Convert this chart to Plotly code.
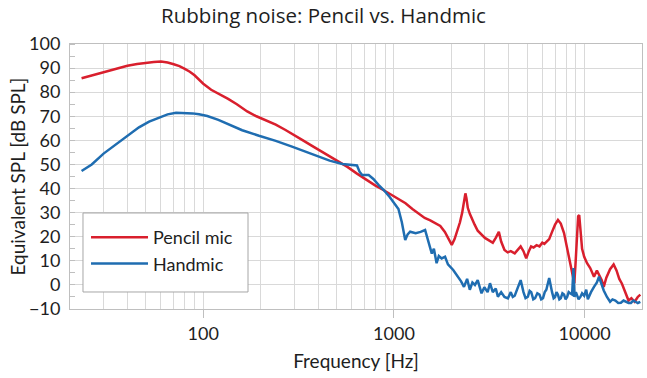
import plotly.graph_objects as go

# ---- data ----
pencil_f = [23, 26, 30, 35, 40, 45, 50, 55, 60, 65, 70, 75, 80, 85, 90, 95, 100, 110, 120, 135,
            150, 170, 190, 215, 240, 270, 300, 330, 370, 410, 460, 510, 570, 640, 720, 800, 880,
            960, 1050, 1150, 1250, 1350, 1450, 1550, 1650, 1750, 1850, 1950, 2010, 2080, 2150,
            2220, 2280, 2330, 2370, 2400, 2440, 2500, 2560, 2650, 2750, 2880, 3000, 3150, 3300,
            3420, 3550, 3650, 3800, 3950, 4100, 4300, 4450, 4620, 4780, 4940, 5100, 5240, 5400,
            5600, 5800, 6000, 6150, 6350, 6520, 6750, 7000, 7250, 7500, 7800, 8100, 8450, 8700,
            8830, 8950, 9100, 9250, 9370, 9500, 9700, 9950, 10300, 10700, 11200, 11600, 11900,
            12300, 12600, 13000, 13600, 14200, 14700, 15200, 15700, 16300, 17000, 17600, 18300,
            19000, 19600]
pencil_db = [85.8, 87, 88.5, 90, 91, 91.7, 92.2, 92.5, 92.7, 92.3, 91.6, 90.8, 89.7, 88.5, 87,
             85.3, 83.5, 81, 79.5, 77.2, 75, 72, 70, 68.3, 66.5, 64.3, 62, 60.2, 57.8, 55.7, 53.6,
             51.2, 49, 46.2, 43.5, 41.2, 39.4, 37.5, 35.6, 33.9, 31.5, 29.5, 27.8, 26.8, 25.7,
             24.5, 22, 18.5, 16.6, 19, 22.5, 26, 30, 34, 38, 36, 32, 29.5, 27.5, 25, 22.5, 20.7,
             19.5, 18.5, 17.5, 19.5, 22, 18, 14.5, 13.5, 14, 13.1, 14.5, 16, 14, 11, 14, 16, 15.5,
             16.5, 16, 17.5, 17, 18, 19, 22, 25, 27, 25.5, 21.5, 15, 9, 3, 0.7, 8, 20, 28.5, 29,
             22, 15, 11.7, 9, 7, 3.4, 6, 4.5, 2, -0.8, 3, 6.5, 8.5, 6, 2.5, 0.5, -3, -6.5, -5.5,
             -7, -5, -4]

hand_f = [23, 26, 30, 35, 40, 46, 52, 59, 65, 72, 80, 88, 95, 105, 120, 137, 160, 196, 240, 292,
          350, 404, 460, 536, 600, 640, 660, 681, 737, 780, 830, 884, 950, 1000, 1056, 1100, 1146,
          1180, 1216, 1300, 1380, 1457, 1518, 1580, 1620, 1674, 1720, 1780, 1854, 1920, 2046, 2150,
          2250, 2330, 2420, 2500, 2580, 2660, 2750, 2880, 2980, 3100, 3190, 3300, 3420, 3510, 3650,
          3800, 3960, 4100, 4200, 4300, 4450, 4620, 4780, 4900, 5040, 5150, 5250, 5380, 5500, 5650,
          5800, 5920, 6050, 6180, 6300, 6520, 6750, 6880, 7000, 7120, 7240, 7370, 7500, 7650, 7800,
          7950, 8100, 8250, 8400, 8600, 8740, 8850, 9000, 9100, 9300, 9500, 9700, 9950, 10200,
          10400, 10600, 10800, 11200, 11600, 11900, 12300, 12600, 13100, 13600, 14000, 14500,
          15000, 15500, 16000, 16500, 17000, 17500, 18000, 18500, 19000, 19600]
hand_db = [47.3, 50, 54.5, 58.5, 62, 65.4, 67.8, 69.6, 70.8, 71.5, 71.5, 71.2, 70.8, 70.1, 68.5,
           66.4, 64.2, 61.9, 59.8, 57.4, 55.2, 53.5, 51.6, 50.2, 49.8, 49.6, 47, 45.6, 45.6, 44,
           41.5, 39.4, 36.5, 34, 31.5, 26, 18.6, 21, 22.1, 21.5, 22, 22.8, 18, 13, 15, 9, 12, 11,
           11.7, 8.5, 6.2, 4, 1.5, -0.8, 2.5, -2, 1, 0, 2, -3.5, -1, -3, 0.7, -3, -1.5, -4.9, -3,
           -5, -5.6, -3, -5, -4.5, -1, 2, -3, -5.5, -4.9, -2.5, -3, -6, -5.5, -3.5,
           -4, -6, -5.5, -3, -2, 2.9, -3, -5.5, -5, -3, -4, -6, -5.5, -3.5, -4,
           -6, -5, -3, -3.5, -4, 7, -5, -3, -4, -6, -5, -3.5, -4.5, -2,
           -6, -4, -3, -0.8, 1, 3.4, 0, -2.3, -5, -7, -6, -6.5,
           -7.5, -7.4, -6.5, -7, -7.5, -7.5, -6.5, -7, -7.5, -7]

series_names = ["Pencil mic", "Handmic"]
title_text = "Rubbing noise: Pencil vs. Handmic"
x_title = "Frequency [Hz]"
y_title = "Equivalent SPL [dB SPL]"
x_major = [100, 1000, 10000]
x_minor = [m * d for d in (10, 100, 1000, 10000) for m in range(2, 10) if 20 <= m * d <= 20000]
y_ticks = list(range(-10, 101, 10))

RED = "#D91F2D"
BLUE = "#1F6DB1"
GRID = "#D9D9D9"
FONT = "Lato"
TXT = "#1E1E1E"

fig = go.Figure()
fig.add_trace(go.Scatter(x=pencil_f, y=pencil_db, mode="lines", name=series_names[0],
                         legendgroup="a", line=dict(color=RED, width=2.5)))
fig.add_trace(go.Scatter(x=hand_f, y=hand_db, mode="lines", name=series_names[1],
                         legendgroup="b", line=dict(color=BLUE, width=2.5)))

W, H = 647, 378
fig.update_layout(
    width=W, height=H,
    margin=dict(l=70, r=5, t=44, b=69, autoexpand=False),
    paper_bgcolor="white", plot_bgcolor="white",
    font=dict(family=FONT, color=TXT, size=18),
    title=dict(text=title_text, x=0.5, xanchor="center", xref="container",
               y=1 - 16 / H, yref="container", yanchor="middle",
               font=dict(family="Open Sans", size=20.5, color=TXT)),
    showlegend=True,
    legend=dict(x=0.028, y=0.3396, xanchor="left", yanchor="top",
                bgcolor="rgba(0,0,0,0)", borderwidth=0,
                font=dict(family=FONT, size=18, color=TXT),
                itemwidth=57, tracegroupgap=0),
    shapes=[dict(type="rect", xref="paper", yref="paper",
                 x0=0.0227, x1=0.3112, y0=0.0642, y1=0.3623,
                 fillcolor="white", line=dict(color="#A6A6A6", width=1), layer="above")],
    annotations=[dict(text=y_title, xref="paper", yref="paper", x=(17 - 70) / 572, y=0.5,
                      xanchor="center", yanchor="middle", textangle=-90, showarrow=False,
                      font=dict(family=FONT, size=19, color=TXT))],
)
fig.update_xaxes(
    type="log", range=[1.30103, 4.30103],
    tickvals=x_major, ticktext=[str(v) for v in x_major],
    ticks="outside", ticklen=8, tickcolor="#BFBFBF",
    showgrid=True, gridcolor=GRID, gridwidth=1,
    minor=dict(tickvals=x_minor, showgrid=True, gridcolor=GRID, ticks=""),
    showline=True, linecolor="#BFBFBF", mirror=True,
    zeroline=False,
    tickfont=dict(family=FONT, size=18, color=TXT),
    title=dict(text=x_title, font=dict(family=FONT, size=19, color=TXT), standoff=12),
)
fig.update_yaxes(
    range=[-10, 100], tickvals=y_ticks,
    showgrid=True, gridcolor=GRID, gridwidth=1,
    ticks="", ticklabelstandoff=5,
    minor=dict(dtick=5, tick0=0, ticks="inside", ticklen=5, tickcolor="#BFBFBF", showgrid=False),
    showline=True, linecolor="#BFBFBF", mirror=True,
    zeroline=False,
    tickfont=dict(family=FONT, size=18, color=TXT),
)

fig.write_html("out.html", config={"displayModeBar": False},
               post_script="document.body.style.margin='0';")
